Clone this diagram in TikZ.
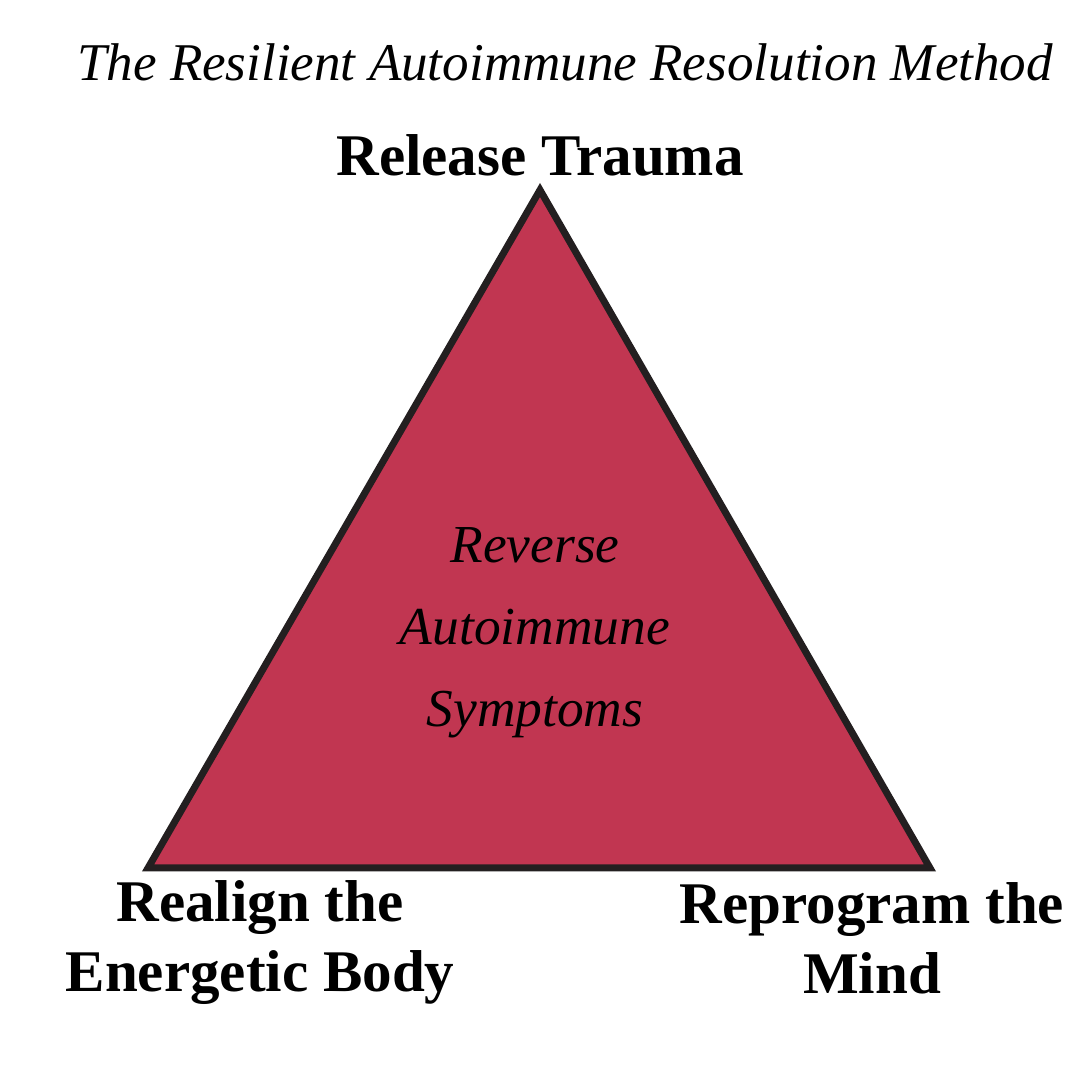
\documentclass[tikz,border=0pt]{standalone}
\usepackage{fontspec}
\setmainfont{Liberation Serif}
\usepackage{xcolor}
\usepackage{tikz}
\definecolor{trifill}{HTML}{C13651}
\definecolor{triedge}{HTML}{231F20}
\tikzset{
  cornerlabel/.style={font=\fontsize{16.8}{19.9}\selectfont\bfseries,align=center},
  handtext/.style={font=\fontsize{15.2}{23.3}\selectfont\itshape,align=center}
}

\begin{document}
\begin{tikzpicture}[thick,scale=1]
\useasboundingbox (0,0) rectangle (10.8,10.8);
\coordinate (apex) at (5.40,8.90);
\coordinate (leftfoot) at (1.48,2.12);
\coordinate (rightfoot) at (9.30,2.12);
% the triangle
\filldraw[fill=trifill,draw=triedge,line width=0.7mm,line join=miter] (apex) -- (leftfoot) -- (rightfoot) -- cycle;
% title and labels
\node[font=\fontsize{15.1}{20}\selectfont\itshape] (title) at (5.65,10.18) {The Resilient Autoimmune Resolution Method};
\node[cornerlabel] (trauma) at (5.40,9.25) {Release Trauma};
\node[cornerlabel] (body) at (2.60,1.37) {Realign the\\Energetic Body};
\node[cornerlabel] (mind) at (8.72,1.42) {Reprogram the\\Mind};
\node[handtext] (reverse) at (5.35,4.47) {Reverse\\Autoimmune\\Symptoms};
\end{tikzpicture}
\end{document}
